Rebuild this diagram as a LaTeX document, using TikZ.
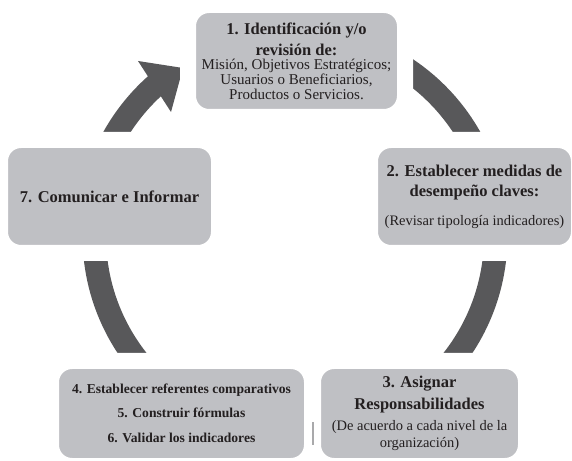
\documentclass[tikz,border=0pt]{standalone}
\usepackage{fontspec}
\setmainfont{Liberation Serif}
\usetikzlibrary{calc}
\definecolor{boxgray}{HTML}{BFC0C4}
\definecolor{ringgray}{HTML}{58585A}
\definecolor{txt}{HTML}{231F20}
\definecolor{markgray}{HTML}{A9A9AB}
\lineskiplimit=-100pt
\newcommand\mytitle{\fontsize{16.5}{15}\selectfont\bfseries}
\newcommand\mysub{\fontsize{14.5}{15}\selectfont\mdseries}
\newcommand\mysubb{\fontsize{15}{15}\selectfont\mdseries}
\newcommand\mysmall{\fontsize{13.6}{15}\selectfont\bfseries}
\begin{document}
\begin{tikzpicture}[x=1pt,y=1pt,
  stepbox/.style={fill=boxgray, draw=white, line width=16pt, rounded corners=21pt,
    inner sep=0pt, align=center, text=txt, font=\mysub},
  ring/.style={draw=ringgray, line width=23.5pt}]
\useasboundingbox (0,0) rectangle (572,460);
\fill[white] (0,0) rectangle (572,460);
% ring
\coordinate (c) at (295,224);
\coordinate (c2) at (290,224);
\draw[ring] ($(c)+(90:200.75)$) arc[start angle=90,end angle=-180,radius=200.75];
\draw[ring] ($(c2)+(180:202)$) arc[start angle=180,end angle=131,radius=202];
\coordinate (tip) at (183,392);
\coordinate (hl) at (138,399);
\coordinate (hr) at (171,348);
\fill[ringgray] (hl) -- (tip) -- (hr) -- cycle;
% boxes
\node[stepbox, minimum width=217pt, minimum height=112pt] (b1) at (296.5,399)
  {\mytitle 1. Identificación y/o\\[6pt]\mytitle revisión de:\\[-1pt]\mysubb Misión, Objetivos Estratégicos;\\\mysubb Usuarios o Beneficiarios,\\\mysubb Productos o Servicios.};
\node[stepbox, minimum width=209pt, minimum height=113pt] (b2) at (474.5,263.5)
  {\mytitle 2. Establecer medidas de\\[5pt]\mytitle desempeño claves:\\[14pt]\mysub (Revisar tipología indicadores)};
\node[stepbox, minimum width=219pt, minimum height=113pt] (b7) at (109.5,263.5)
  {\mytitle 7. Comunicar e Informar};
\node[stepbox, minimum width=261pt, minimum height=105pt] (b4) at (181.5,46.5)
  {\mysmall 4. Establecer referentes comparativos\\[8.5pt]\mysmall 5. Construir fórmulas\\[10pt]\mysmall 6. Validar los indicadores};
\node[stepbox, minimum width=213pt, minimum height=105pt] (b3) at (419.5,46.5)
  {\mytitle 3. Asignar\\[6.7pt]\mytitle Responsabilidades\\[6.3pt]\mysub (De acuerdo a cada nivel de la\\[2pt]\mysub organización)};
% thin mark
\coordinate (m1) at (313,38);
\coordinate (m2) at (313,15);
\draw[draw=markgray, line width=1.2pt] (m1) -- (m2);
\end{tikzpicture}
\end{document}
